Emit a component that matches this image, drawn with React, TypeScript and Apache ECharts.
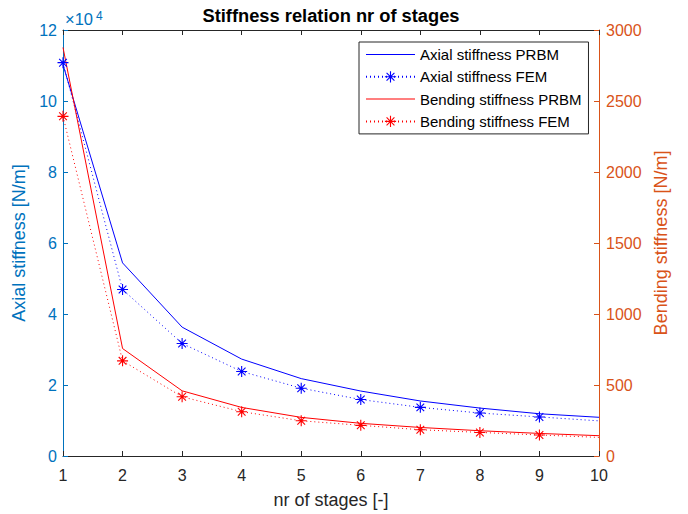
import React, { useEffect, useRef } from "react";
import * as echarts from "echarts";

const stages = [1, 2, 3, 4, 5, 6, 7, 8, 9, 10];
const axialPRBM = [110200, 54400, 36300, 27300, 21800, 18300, 15500, 13500, 11900, 10900];
const axialFEM = [110800, 46900, 31700, 23800, 19100, 15900, 13700, 12100, 11000, 9900];
const bendingPRBM = [2877, 757, 459, 342, 272, 230, 201, 178, 159, 143];
const bendingFEM = [2392, 670, 417, 312, 248, 216, 185, 166, 148, 131];
const leftTicks = [0, 20000, 40000, 60000, 80000, 100000, 120000];
const rightTicks = [0, 500, 1000, 1500, 2000, 2500, 3000];

const FONT = "Liberation Sans";
const AX = "#262626";
const BLUE_AX = "#0072BD";
const ORANGE_AX = "#D95319";

const ASTERISK =
  "path://M-1,-10L1,-10L1,10L-1,10Z" +
  "M-10,-1L10,-1L10,1L-10,1Z" +
  "M-6.3,-7.7L7.7,6.3L6.3,7.7L-7.7,-6.3Z" +
  "M-7.7,6.3L6.3,-7.7L7.7,-6.3L-6.3,7.7Z";
const LINE_ICON = "path://M0,0L49,0L49,1L0,1Z";

function pairs(vals: number[], markLast: boolean) {
  return stages.map((s, i) => {
    if (!markLast && i === stages.length - 1) {
      return { value: [s, vals[i]], symbol: "none" };
    }
    return { value: [s, vals[i]] };
  });
}

export default function App() {
  const ref = useRef<HTMLDivElement>(null);
  useEffect(() => {
    if (!ref.current) return;
    const chart = echarts.init(ref.current, undefined, { renderer: "svg" });
    const xCommon = {
      type: "value" as const,
      min: stages[0],
      max: stages[stages.length - 1],
      interval: 1,
      splitLine: { show: false },
      axisLine: { show: true, onZero: false, lineStyle: { color: AX, width: 1 } },
      axisTick: { show: true, inside: true, length: 5, lineStyle: { color: AX } },
    };
    chart.setOption({
      animation: false,
      backgroundColor: "#ffffff",
      textStyle: { fontFamily: FONT },
      grid: { left: 63, right: 89, top: 30, bottom: 57, containLabel: false },
      graphic: [
        {
          type: "text",
          x: 331,
          y: 15,
          style: {
            text: "Stiffness relation nr of stages",
            fontFamily: FONT,
            fontSize: 18.3,
            fontWeight: "bold",
            fill: "#000000",
            align: "center",
            verticalAlign: "middle",
          },
        },
        {
          type: "text",
          x: 65,
          y: 27,
          style: {
            text: "×10",
            fontFamily: FONT,
            fontSize: 16.5,
            fill: BLUE_AX,
            align: "left",
            verticalAlign: "bottom",
          },
        },
        {
          type: "text",
          x: 96,
          y: 22,
          style: {
            text: "4",
            fontFamily: FONT,
            fontSize: 12,
            fill: BLUE_AX,
            align: "left",
            verticalAlign: "bottom",
          },
        },
      ],
      legend: {
        left: 359,
        top: 42,
        orient: "vertical",
        selectedMode: false,
        backgroundColor: "#ffffff",
        borderColor: AX,
        borderWidth: 1,
        padding: [5, 7, 5, 6],
        itemWidth: 49,
        itemHeight: 14,
        itemGap: 7.3,
        textStyle: { fontFamily: FONT, fontSize: 15, lineHeight: 14, color: "#000000" },
        data: [
          { name: "Axial stiffness PRBM", icon: LINE_ICON },
          { name: "Axial stiffness FEM" },
          { name: "Bending stiffness PRBM", icon: LINE_ICON },
          { name: "Bending stiffness FEM" },
        ],
      },
      xAxis: [
        {
          ...xCommon,
          position: "bottom",
          axisLabel: { color: AX, fontSize: 16, margin: 11, fontFamily: FONT },
          name: "nr of stages [-]",
          nameLocation: "middle",
          nameGap: 35,
          nameTextStyle: { color: AX, fontSize: 18, fontFamily: FONT },
        },
        {
          ...xCommon,
          position: "top",
          axisLabel: { show: false },
        },
      ],
      yAxis: [
        {
          type: "value",
          position: "left",
          min: leftTicks[0],
          max: leftTicks[leftTicks.length - 1],
          interval: leftTicks[1] - leftTicks[0],
          splitLine: { show: false },
          axisLine: { show: true, onZero: false, lineStyle: { color: BLUE_AX, width: 1 } },
          axisTick: { show: true, inside: true, length: 5, lineStyle: { color: BLUE_AX } },
          axisLabel: {
            color: BLUE_AX,
            fontSize: 16,
            margin: 6,
            fontFamily: FONT,
            formatter: (v: number) => String(v / 10000),
          },
          name: "Axial stiffness [N/m]",
          nameLocation: "middle",
          nameRotate: 90,
          nameGap: 27,
          nameTextStyle: { color: BLUE_AX, fontSize: 18, fontFamily: FONT },
        },
        {
          type: "value",
          position: "right",
          min: rightTicks[0],
          max: rightTicks[rightTicks.length - 1],
          interval: rightTicks[1] - rightTicks[0],
          splitLine: { show: false },
          axisLine: { show: true, onZero: false, lineStyle: { color: ORANGE_AX, width: 1 } },
          axisTick: { show: true, inside: true, length: 5, lineStyle: { color: ORANGE_AX } },
          axisLabel: {
            color: ORANGE_AX,
            fontSize: 16,
            margin: 7,
            fontFamily: FONT,
            formatter: (v: number) => String(v),
          },
          name: "Bending stiffness [N/m]",
          nameLocation: "middle",
          nameRotate: 90,
          nameGap: 51,
          nameTextStyle: { color: ORANGE_AX, fontSize: 18, fontFamily: FONT },
        },
      ],
      series: [
        {
          name: "Axial stiffness PRBM",
          type: "line",
          xAxisIndex: 0,
          yAxisIndex: 0,
          data: pairs(axialPRBM, true),
          symbol: "none",
          lineStyle: { color: "#0000FF", width: 1, type: "solid" },
          itemStyle: { color: "#0000FF" },
        },
        {
          name: "Axial stiffness FEM",
          type: "line",
          xAxisIndex: 0,
          yAxisIndex: 0,
          data: pairs(axialFEM, false),
          symbol: ASTERISK,
          symbolSize: 11,
          showSymbol: true,
          lineStyle: { color: "#0000FF", width: 1, type: [1, 3] },
          itemStyle: { color: "#0000FF" },
        },
        {
          name: "Bending stiffness PRBM",
          type: "line",
          xAxisIndex: 0,
          yAxisIndex: 1,
          data: pairs(bendingPRBM, true),
          symbol: "none",
          lineStyle: { color: "#FF0000", width: 1, type: "solid" },
          itemStyle: { color: "#FF0000" },
        },
        {
          name: "Bending stiffness FEM",
          type: "line",
          xAxisIndex: 0,
          yAxisIndex: 1,
          data: pairs(bendingFEM, false),
          symbol: ASTERISK,
          symbolSize: 11,
          showSymbol: true,
          lineStyle: { color: "#FF0000", width: 1, type: [1, 3] },
          itemStyle: { color: "#FF0000" },
        },
      ],
    });
    return () => chart.dispose();
  }, []);
  return (
    <div
      ref={ref}
      style={{ position: "absolute", left: 0, top: 0, width: 688, height: 514, background: "#fff" }}
    />
  );
}
